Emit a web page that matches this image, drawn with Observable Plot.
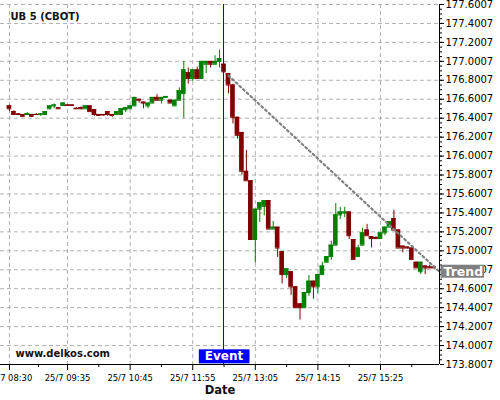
<!DOCTYPE html>
<html><head><meta charset="utf-8">
<script src="https://cdn.jsdelivr.net/npm/d3@7"></script>
<script src="https://cdn.jsdelivr.net/npm/@observablehq/plot@0.6"></script>
<style>
body{margin:0;background:#fff;}
#chart svg{display:block;font-family:"DejaVu Sans",sans-serif;overflow:hidden;}
</style></head><body><div id="chart"></div>
<script>
const day = "2024-07-25T";
const times = ["08:30","08:35","08:40","08:45","08:50","08:55","09:00","09:05","09:10","09:15",
"09:20","09:25","09:30","09:35","09:40","09:45","09:50","09:55","10:00","10:05",
"10:10","10:15","10:20","10:25","10:30","10:35","10:40","10:45","10:50","10:55",
"11:00","11:05","11:10","11:15","11:20","11:25","11:30","11:35","11:40","11:45",
"11:50","11:55","12:00","12:05","12:10","12:15","12:20","12:25",
"12:30","12:35","12:40","12:45","12:50","12:55","13:00","13:05","13:10","13:15",
"13:20","13:25","13:30","13:35","13:40","13:45","13:50","13:55","14:00","14:05",
"14:10","14:15","14:20","14:25","14:30","14:35","14:40","14:45","14:50","14:55",
"15:00","15:05","15:10","15:15","15:20","15:25","15:30","15:35","15:40","15:45",
"15:50","15:55","16:00","16:05","16:10","16:15","16:20","16:25"];
const opens = [176.53,176.47,176.445,176.44,176.44,176.44,176.44,176.44,176.44,176.50,
176.53,176.51,176.535,176.54,176.54,176.505,176.51,176.50,176.53,176.49,
176.44,176.44,176.47,176.44,176.44,176.44,176.49,176.50,176.53,176.60,
176.57,176.53,176.56,176.62,176.59,176.62,176.59,176.53,176.59,176.66,
176.88,176.82,176.91,176.82,176.97,177.00,176.97,177.00,
176.97,176.87,176.75,176.41,176.25,175.84,175.74,175.12,175.44,175.47,
175.53,175.23,175.25,174.99,174.75,174.78,174.62,174.44,174.40,174.56,
174.68,174.62,174.75,174.88,174.94,175.06,175.38,175.40,175.41,175.12,
174.94,175.06,175.22,175.15,175.14,175.13,175.19,175.25,175.34,175.22,
175.05,175.04,175.03,174.88,174.78,174.84,174.83,174.83];
const highs = [176.54,176.48,176.45,176.44,176.46,176.44,176.45,176.45,176.47,176.53,
176.55,176.51,176.56,176.54,176.54,176.51,176.52,176.53,176.53,176.49,
176.44,176.44,176.47,176.44,176.47,176.50,176.51,176.53,176.62,176.60,
176.57,176.56,176.62,176.65,176.62,176.63,176.59,176.59,176.72,177.00,
176.93,176.91,176.94,177.00,177.00,177.00,177.06,177.12,
176.97,176.87,176.76,176.41,176.25,176.06,175.74,175.44,175.51,175.53,
175.53,175.31,175.25,174.99,174.81,174.78,174.62,174.44,174.56,174.74,
174.68,174.75,174.88,174.94,175.10,175.50,175.46,175.46,175.41,175.12,
175.06,175.24,175.28,175.15,175.15,175.19,175.25,175.31,175.43,175.22,
175.05,175.04,175.03,174.88,174.88,174.84,174.85,174.84];
const lows = [176.47,176.43,176.43,176.41,176.43,176.41,176.43,176.42,176.43,176.49,
176.50,176.50,176.53,176.535,176.53,176.50,176.49,176.50,176.47,176.42,
176.42,176.42,176.42,176.41,176.43,176.44,176.46,176.50,176.53,176.56,
176.50,176.50,176.56,176.59,176.55,176.62,176.56,176.53,176.59,176.40,
176.76,176.79,176.82,176.81,176.87,176.93,176.97,176.93,
176.88,176.66,176.34,176.18,175.80,175.74,175.12,174.87,175.30,175.37,
175.23,175.23,174.93,174.65,174.71,174.53,174.40,174.27,174.40,174.52,
174.49,174.55,174.75,174.88,174.90,175.06,175.33,175.35,175.12,174.91,
174.94,175.06,175.16,175.03,175.12,175.13,175.16,175.25,175.22,175.03,
174.98,175.02,174.91,174.82,174.75,174.75,174.82,174.82];
const closes = [176.50,176.44,176.44,176.42,176.45,176.42,176.44,176.445,176.47,176.53,
176.54,176.50,176.56,176.535,176.535,176.50,176.50,176.53,176.47,176.44,
176.43,176.435,176.44,176.43,176.47,176.50,176.51,176.53,176.62,176.59,
176.56,176.56,176.62,176.59,176.62,176.63,176.56,176.59,176.69,176.91,
176.82,176.91,176.82,177.00,177.00,176.97,177.00,177.03,
176.89,176.75,176.41,176.22,175.84,175.74,175.12,175.44,175.51,175.53,
175.23,175.25,175.03,174.75,174.81,174.62,174.40,174.40,174.56,174.68,
174.62,174.75,174.84,174.94,175.06,175.38,175.41,175.41,175.16,174.91,
175.03,175.19,175.16,175.13,175.13,175.19,175.25,175.31,175.22,175.03,
175.03,175.03,174.91,174.82,174.88,174.82,174.82,174.82];

const xTickTimes = ["08:30","09:35","10:45","11:55","13:05","14:15","15:25"];
const xTickLabels = ["25/7 08:30","25/7 09:35","25/7 10:45","25/7 11:55","25/7 13:05","25/7 14:15","25/7 15:25"];
const xMinorTimes = ["09:02:30","10:10","11:20","12:30","13:40","14:50","16:00"];
const xDomainTimes = ["08:20","16:31"];
const yTicks = [173.8007,174.0007,174.2007,174.4007,174.6007,174.8007,175.0007,175.2007,175.4007,175.6007,
175.8007,176.0007,176.2007,176.4007,176.6007,176.8007,177.0007,177.2007,177.4007,177.6007];
const yTickLabels = ["173.8007","174.0007","174.2007","174.4007","174.6007","174.8007","175.0007","175.2007","175.4007","175.6007",
"175.8007","176.0007","176.2007","176.4007","176.6007","176.8007","177.0007","177.2007","177.4007","177.6007"];
const yDomain = [173.8007, 177.6007];
const eventTime = "12:30";
const trendTimes = ["12:35","16:31"];
const trendValues = [176.85, 174.78];
const title = "UB 5 (CBOT)";
const site = "www.delkos.com";

const T = s => new Date(day + (s.length === 5 ? s + ":00" : s) + "Z");
const candles = times.map((t, i) => ({date: T(t), open: opens[i], high: highs[i], low: lows[i], close: closes[i]}));
const half = 2.6 * 60000;
const colorOf = d => d.close > d.open ? "#008000" : "#800000";
const x0 = d => new Date(+d.date - half), x1 = d => new Date(+d.date + half);
const xLab = new Map(xTickTimes.map((t, i) => [+T(t), xTickLabels[i]]));
const yLab = new Map(yTicks.map((v, i) => [v, yTickLabels[i]]));
const yMinor = d3.range(0, 77).map(i => yDomain[0] + i * 0.05);
const trend = trendTimes.map((t, i) => ({date: T(t), v: trendValues[i]}));
const grid = {stroke: "#b0b0b0", strokeWidth: 1, strokeDasharray: "4 3"};

const svg = Plot.plot({
  width: 500, height: 400,
  marginLeft: 0, marginRight: 61, marginTop: 4, marginBottom: 36,
  style: {fontFamily: "DejaVu Sans", background: "white"},
  x: {type: "utc", domain: xDomainTimes.map(T)},
  y: {domain: yDomain},
  marks: [
    Plot.ruleY(yTicks, {y: d => d, ...grid}),
    Plot.ruleX(xTickTimes.map(T), {x: d => d, ...grid}),
    Plot.ruleX(candles, {x: "date", y1: "low", y2: "high", stroke: colorOf, strokeWidth: 1}),
    Plot.rect(candles, {x1: x0, x2: x1, y1: "open", y2: "close", fill: colorOf}),
    Plot.ruleY(candles, {x1: x0, x2: x1, y: "close", stroke: colorOf, strokeWidth: 1}),
    Plot.ruleY(candles, {x1: x0, x2: x1, y: "open", stroke: colorOf, strokeWidth: 1}),
    Plot.line(trend, {x: "date", y: "v", stroke: "#808080", strokeWidth: 2.2, strokeDasharray: "2 3"}),
    Plot.ruleX([T(eventTime)], {stroke: "#0000ff", strokeWidth: 1, dx: -0.5}),
    Plot.ruleX([T(xDomainTimes[1])], {stroke: "black", strokeWidth: 1}),
    Plot.ruleY([yDomain[0]], {stroke: "black", strokeWidth: 1}),
    Plot.axisY(yTicks, {anchor: "right", label: null, tickSize: 4, tickPadding: 2, fontSize: 10, fill: "black", stroke: "black", tickFormat: d => yLab.get(d)}),
    Plot.axisY(yMinor, {anchor: "right", label: null, tickSize: 2, tickFormat: () => "", stroke: "black"}),
    Plot.axisX(xTickTimes.map(T), {anchor: "bottom", label: null, tickSize: 6, tickPadding: 4, fontSize: 9.3, fill: "black", stroke: "black", tickFormat: d => xLab.get(+d)}),
    Plot.axisX(xMinorTimes.map(T), {anchor: "bottom", label: null, tickSize: 3, tickFormat: () => "", stroke: "black"}),
    Plot.text([title], {frameAnchor: "top-left", dx: 10, dy: 8, lineAnchor: "top", fontWeight: "bold", fontSize: 10, fill: "#111"}),
    Plot.text([site], {frameAnchor: "bottom-left", dx: 15, dy: -11, lineAnchor: "middle", fontWeight: "bold", fontSize: 10, fill: "#111"}),
    Plot.text(["Date"], {frameAnchor: "bottom", dy: 26, lineAnchor: "middle", fontWeight: "bold", fontSize: 11.5, fill: "#111"}),
    Plot.text([T(eventTime)], {x: d => d, frameAnchor: "bottom", dy: -8, lineAnchor: "middle", text: () => "Event", fontWeight: "bold", fontSize: 12, fill: "white"}),
    Plot.text([trend[1]], {x: "date", y: "v", dx: 4, textAnchor: "start", lineAnchor: "middle", text: () => "Trend", fontWeight: "bold", fontSize: 12.5, fill: "white"})
  ]
});
document.getElementById("chart").appendChild(svg);
svg.querySelectorAll("g[aria-label='x-axis tick label'] text").forEach(t => t.setAttribute("font-family", "'DejaVu Sans Condensed','DejaVu Sans',sans-serif"));
function box(label, fill, padL, padR, padT, padB) {
  svg.querySelectorAll("text").forEach(t => {
    if (t.textContent !== label) return;
    const b = t.getBBox();
    const r = document.createElementNS("http://www.w3.org/2000/svg", "rect");
    r.setAttribute("x", b.x - padL); r.setAttribute("y", b.y - padT);
    r.setAttribute("width", b.width + padL + padR); r.setAttribute("height", b.height + padT + padB);
    r.setAttribute("fill", fill);
    if (t.getAttribute("transform")) r.setAttribute("transform", t.getAttribute("transform"));
    t.parentNode.insertBefore(r, t);
  });
}
box("Event", "#0000ff", 6, 6, 0, 0);
box("Trend", "#808080", 3, 1, -1, -1);
</script></body></html>
